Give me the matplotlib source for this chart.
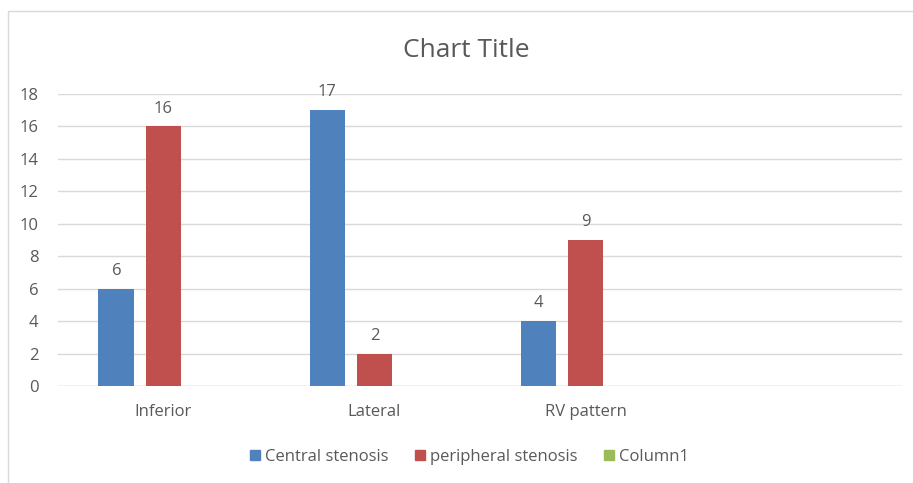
import matplotlib.pyplot as plt
import numpy as np
from matplotlib.patches import Rectangle

plt.rcParams['font.family'] = ['Open Sans', 'DejaVu Sans']

categories = ["Inferior", "Lateral", "RV pattern", ""]
central = [6, 17, 4, None]
peripheral = [16, 2, 9, None]
column1 = [None, None, None, None]

series = [("Central stenosis", central, "#4F81BD"),
          ("peripheral stenosis", peripheral, "#C0504D"),
          ("Column1", column1, "#9BBB59")]

fig = plt.figure(figsize=(9.13, 4.83), dpi=100)
ax = fig.add_axes([0.0635, 0.2008, 0.9245, 0.6046])

x = np.arange(len(categories))
w = 0.17
step = 0.223
text_c = "#595959"
fs = 12
handles = []
for i, (name, vals, col) in enumerate(series):
    xs = [xi + (i - 1) * step for xi, v in zip(x, vals) if v is not None]
    vs = [v for v in vals if v is not None]
    ax.bar(xs, vs, width=w, color=col, zorder=3)
    for xi, v in zip(xs, vs):
        ax.text(xi, v + 0.6, str(v), ha="center", va="bottom", fontsize=fs, color=text_c)
    handles.append(Rectangle((0, 0), 1, 1, color=col, label=name))

ax.set_xlim(-0.5, len(categories) - 0.5)
ax.set_ylim(0, 18)
ax.set_yticks(range(0, 19, 2))
ax.set_xticks(x)
ax.set_xticklabels(categories)
ax.grid(axis="y", color="#D9D9D9", linewidth=1, zorder=0)
for s in ax.spines.values():
    s.set_visible(False)
ax.tick_params(length=0, labelsize=fs, colors=text_c, pad=14)
ax.tick_params(axis="x", pad=13)
ax.axhline(0, color="#D9D9D9", linewidth=1, zorder=2)

fig.text(0.511, 1 - 57 / 483, "Chart Title", ha="center", va="baseline", fontsize=19, color=text_c)

leg = fig.legend(handles=handles, loc="center", bbox_to_anchor=(0.514, 0.054),
                 ncol=3, frameon=False, fontsize=fs, handlelength=0.6, handleheight=0.6,
                 handletextpad=0.3, columnspacing=1.6)
for t in leg.get_texts():
    t.set_color(text_c)

fig.patches.append(Rectangle((8 / 913, -0.1), 1.0, 1.1 - 11 / 483, transform=fig.transFigure,
                             fill=False, edgecolor="#D9D9D9", linewidth=1))

fig.savefig("out.png", dpi=100)
